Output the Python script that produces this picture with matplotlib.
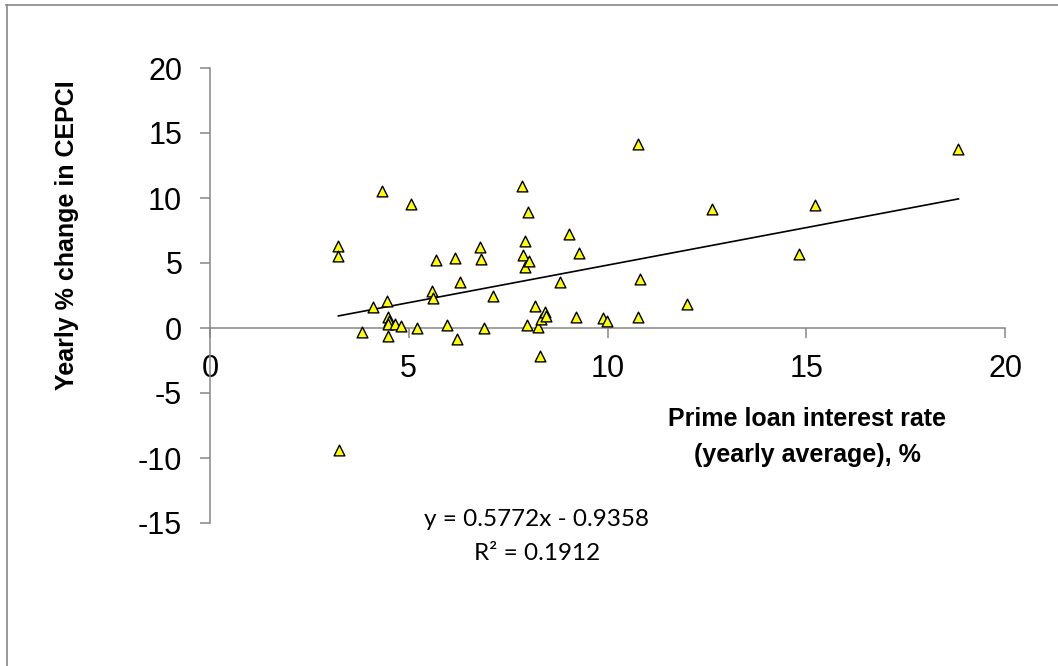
import matplotlib
matplotlib.use("Agg")
import matplotlib.pyplot as plt
from matplotlib.lines import Line2D
import numpy as np

# ---- data ----
prime_rate = [3.23, 3.23, 3.24, 3.82, 4.10, 4.32, 4.46, 4.49, 4.50, 4.49, 4.49,
              4.65, 4.80, 5.06, 5.22, 5.59, 5.62, 5.69, 5.97, 6.16, 6.21, 6.28,
              6.79, 6.82, 6.89, 7.11, 7.84, 7.87, 7.93, 7.93, 7.97, 7.99, 8.03,
              8.18, 8.24, 8.30, 8.33, 8.43, 8.45, 8.81, 9.02, 9.20, 9.29, 9.88,
              9.98, 10.77, 10.77, 10.83, 12.00, 12.64, 14.83, 15.22, 18.83]
cepci_change = [6.31, 5.54, -9.38, -0.33, 1.62, 10.54, 2.08, 0.87, 0.55, 0.30, -0.59,
                0.28, 0.15, 9.51, -0.03, 2.85, 2.28, 5.23, 0.23, 5.41, -0.87, 3.51,
                6.26, 5.31, -0.03, 2.46, 10.95, 5.62, 6.72, 4.69, 0.26, 8.90, 5.15,
                1.69, 0.10, -2.15, 0.67, 1.26, 0.95, 3.51, 7.21, 0.87, 5.79, 0.74,
                0.54, 14.13, 0.87, 3.77, 1.82, 9.13, 5.69, 9.44, 13.74]
trend_slope = 0.5772
trend_intercept = -0.9358
trend_r2 = 0.1912
x_ticks = [0, 5, 10, 15, 20]
y_ticks = [-15, -10, -5, 0, 5, 10, 15, 20]

W, H = 1058, 666
fig = plt.figure(figsize=(W / 100, H / 100), dpi=100)
fig.patch.set_facecolor("white")

def fx(px):
    return px / W

def fy(py):
    return 1 - py / H

ax = fig.add_axes([fx(210), fy(523), (1005 - 210) / W, (523 - 68) / H])
ax.set_xlim(0, 20)
ax.set_ylim(-15, 20)

axis_gray = "#868686"
for s in ["top", "right"]:
    ax.spines[s].set_visible(False)
ax.spines["left"].set_position(("data", 0))
ax.spines["bottom"].set_position(("data", 0))
for s in ["left", "bottom"]:
    ax.spines[s].set_color(axis_gray)
    ax.spines[s].set_linewidth(1.1)

ax.set_xticks(x_ticks)
ax.set_yticks(y_ticks)
ax.set_xticklabels([str(v) for v in x_ticks])
ax.set_yticklabels([str(v) for v in y_ticks])
tick_font = "Liberation Sans"
ax.tick_params(axis="x", direction="out", length=7, width=1.1, color=axis_gray,
               pad=12, labelsize=22, labelcolor="black")
ax.tick_params(axis="y", direction="out", length=7, width=1.1, color=axis_gray,
               pad=13, labelsize=22, labelcolor="black")
for lab in ax.get_xticklabels() + ax.get_yticklabels():
    lab.set_fontfamily(tick_font)

# trendline
xt = np.array([min(prime_rate), max(prime_rate)])
ax.plot(xt, trend_slope * xt + trend_intercept, color="black", lw=1.2, zorder=2)

# scatter
ax.scatter(prime_rate, cepci_change, marker="^", s=60, facecolor="#FFFF00",
           edgecolor="black", linewidth=1.0, zorder=3, clip_on=False)

# axis titles
fig.text(fx(807), fy(419), "Prime loan interest rate", ha="center", va="center",
         fontsize=18, fontweight="bold", family="Liberation Sans")
fig.text(fx(807), fy(455), "(yearly average), %", ha="center", va="center",
         fontsize=18, fontweight="bold", family="Liberation Sans")
fig.text(fx(67), fy(235), "Yearly % change in CEPCI", ha="center", va="center",
         rotation=90, fontsize=18, fontweight="bold", family="Liberation Sans")

# trendline equation
sign = "-" if trend_intercept < 0 else "+"
fig.text(fx(537), fy(520), f"y = {trend_slope:.4f}x {sign} {abs(trend_intercept):.4f}",
         ha="center", va="center", fontsize=17.5, family="Lato")
fig.text(fx(537), fy(553), f"R² = {trend_r2:.4f}", ha="center", va="center",
         fontsize=17.5, family="Lato")

# outer chart border (left and top visible)
fig.add_artist(Line2D([fx(6.5), fx(6.5)], [fy(4.5), 0], color=axis_gray, lw=1.2,
                      transform=fig.transFigure))
fig.add_artist(Line2D([fx(6), 1], [fy(4.5), fy(4.5)], color=axis_gray, lw=1.2,
                      transform=fig.transFigure))

fig.savefig("out.png", dpi=100)
